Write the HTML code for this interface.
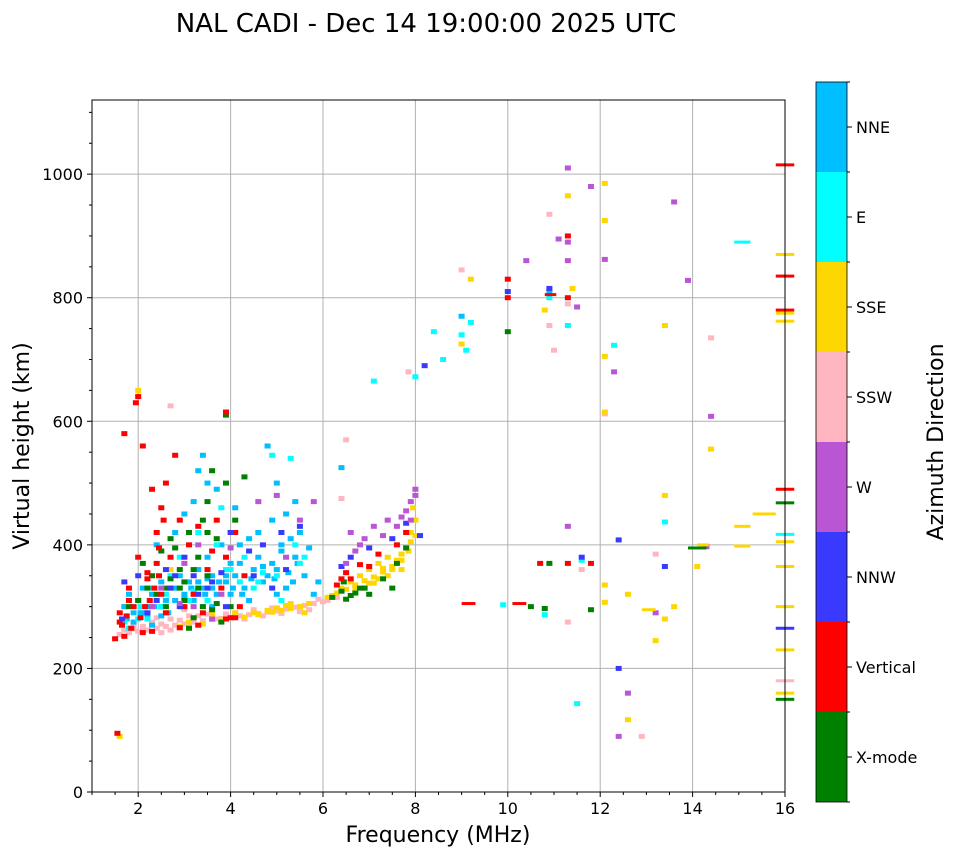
<!DOCTYPE html>
<html><head><meta charset="utf-8">
<style>
html,body{margin:0;padding:0;background:#fff;}
svg{display:block;font-family:"DejaVu Sans","Liberation Sans",sans-serif;}
</style></head>
<body>
<svg id="chart" width="958" height="857" viewBox="0 0 958 857">
  <text x="426" y="32" font-size="26" text-anchor="middle">NAL CADI - Dec 14 19:00:00 2025 UTC</text>
  <g id="grid"></g>
  <g id="marks"></g>
  <rect x="92" y="100" width="693" height="692" fill="none" stroke="#000" stroke-width="1"/>
  <g id="axes"></g>
  <text x="438" y="842" font-size="22" text-anchor="middle">Frequency (MHz)</text>
  <text transform="translate(29,446) rotate(-90)" font-size="22" text-anchor="middle">Virtual height (km)</text>
  <g id="colorbar"></g>
  <text transform="translate(943,442) rotate(-90)" font-size="22" text-anchor="middle">Azimuth Direction</text>
</svg>
<script>
const dirNames = ["X-mode","Vertical","NNW","W","SSW","SSE","E","NNE"];
const dirColors = ["#008000","#ff0000","#3a3aff","#ba55d3","#ffb6c1","#ffd700","#00ffff","#00bfff"];
const xTicks = [2,4,6,8,10,12,14,16];
const yTicks = [0,200,400,600,800,1000];

// direction 0: X-mode
const xmodeF = [6.2,6.4,6.6,6.9,7.3,3.2,2.6,1.8,2.1,2.3,2.5,2.7,2.9,3.1,3.3,3.5,3.7,3.9,4.1,4.3,3.6,2.7,3.4,3.9,2.2,3.0,3.4,3.5,6.5,6.7,7.0,7.5,7.8,4.0,10.0,10.5,10.8,10.9,11.8,3.8,2.8,2.4,2.6,3.0,3.3,3.6,3.2,3.5,2.9,3.7,6.45,6.8,7.6,2.0,3.1];
const xmodeH = [315,325,318,330,345,282,300,300,370,350,390,410,360,420,380,470,410,500,440,510,520,345,440,610,330,340,300,420,312,322,320,330,395,300,745,300,297,370,295,275,395,320,330,310,330,295,360,350,330,305,340,330,370,310,265];
// direction 1: Vertical
const vertF = [1.5,1.7,2.1,2.9,3.3,3.9,4.1,1.6,1.8,2.0,2.2,2.4,2.5,2.7,2.9,3.1,3.3,3.5,3.7,3.9,4.1,4.3,2.3,2.6,2.1,1.7,1.95,2.0,3.9,2.8,2.4,3.0,3.6,6.4,6.5,6.8,7.2,7.6,7.8,6.3,2.2,1.6,1.9,3.4,10.0,10.0,11.3,11.3,10.7,11.3,11.8,1.55,4.0,2.5,1.65,1.75,1.85,2.25,2.35,2.45,2.15,2.05,1.8,2.6,3.2,3.8,4.2,2.3,2.45,2.55,6.6,7.0];
const vertH = [248,252,258,266,270,280,282,290,330,380,345,420,460,380,440,400,430,360,440,380,420,350,490,500,560,580,630,640,615,545,370,300,390,345,355,368,385,400,420,335,355,275,300,290,830,800,900,800,370,370,370,95,282,320,270,285,265,310,330,350,300,282,310,290,320,330,300,260,395,440,345,365];
// direction 2: NNW
const nnwF = [6.6,7.0,7.5,7.8,6.4,1.7,2.0,2.4,2.8,3.2,3.6,4.0,4.4,4.7,5.1,5.5,3.0,3.8,2.6,5.2,8.2,10.0,10.9,11.6,12.4,12.4,13.4,3.5,2.9,1.65,2.2,2.7,3.3,3.9,4.5,4.9,8.1];
const nnwH = [380,395,410,435,365,340,350,310,350,350,340,420,390,400,420,430,380,355,360,360,690,810,815,380,408,200,365,330,300,280,290,330,320,300,350,330,415];
// direction 3: W
const wF = [6.5,6.7,6.9,7.1,7.4,7.7,7.9,8.0,6.8,7.3,7.6,2.5,3.3,4.0,4.6,5.0,5.8,5.5,3.0,10.4,11.1,11.3,11.3,11.3,11.5,11.8,12.1,12.3,13.6,13.9,14.4,11.3,12.4,12.6,13.2,14.3,7.8,2.9,3.6,3.8,3.2,2.3,5.2,7.9,8.0,6.6];
const wH = [370,390,410,430,440,445,470,490,400,415,430,330,400,395,470,480,470,440,370,860,895,1010,890,860,785,980,862,680,955,828,608,430,90,160,290,397,455,305,280,320,300,300,380,440,480,420];
// direction 4: SSW
const sswF = [1.6,1.8,2.0,2.2,2.4,2.6,2.8,3.0,3.2,3.4,3.6,3.8,4.0,4.2,4.4,4.6,4.8,5.0,5.2,5.4,5.6,5.8,6.0,1.9,2.3,2.7,3.1,3.5,2.5,2.2,3.0,6.5,6.4,2.7,5.2,5.9,6.2,4.5,4.9,9.0,7.85,10.9,11.0,10.9,11.3,14.4,12.1,11.6,11.3,13.2,12.9,2.1,2.9,3.7,1.7,1.9,2.1,2.3,2.5,2.7,2.9,3.1,3.3,4.3,4.7,5.1,5.5,5.7,6.1,6.3,2.4,2.6,3.3,3.9,4.1];
const sswH = [255,258,260,262,265,268,270,272,275,277,279,281,283,285,287,289,291,293,296,299,302,305,308,270,275,280,285,288,272,290,295,570,475,625,300,312,318,295,298,845,680,755,715,935,790,735,612,360,275,385,90,262,278,280,262,264,268,272,258,262,265,268,270,280,285,289,292,295,310,315,282,290,285,288,290];
// direction 5: SSE
const sseF = [3.4,3.8,4.3,4.6,4.9,5.1,5.3,5.5,6.1,6.3,6.5,6.7,6.9,7.1,7.3,7.5,7.6,7.7,7.8,7.9,8.0,8.0,7.95,6.6,6.8,7.0,7.2,7.4,2.7,3.6,5.6,2.0,4.1,5.3,6.9,7.1,7.4,7.7,7.6,7.3,9.0,9.2,10.8,11.3,11.4,12.1,12.1,12.1,12.1,13.4,13.4,14.1,12.1,12.1,12.6,12.6,13.2,13.4,13.6,14.4,1.6,2.9,3.6,4.5,4.8,5.0,5.2,5.7,6.2,6.4,6.7,7.0,7.2,7.5,7.7,7.85,7.9,2.3,3.1,1.7];
const sseH = [272,277,283,287,291,294,297,300,315,322,328,335,342,348,356,365,375,385,395,405,415,440,460,340,350,360,370,380,360,290,290,650,290,305,330,338,350,360,372,362,725,830,780,965,815,985,925,705,615,755,480,365,335,307,320,117,245,280,300,555,90,268,285,290,294,298,302,305,318,330,330,338,345,360,375,390,420,300,275,300];
// direction 6: E
const eF = [2.0,2.6,3.4,4.2,5.6,5.1,3.8,5.3,4.9,2.9,2.3,3.1,3.9,4.5,5.4,1.9,9.0,9.1,8.4,8.0,7.1,8.6,9.2,10.9,11.3,11.6,12.3,9.9,10.8,11.5,13.4,3.2,4.7,2.5,1.7,1.8,2.05,2.2,2.7,3.5,4.0,4.6,5.0,5.5,3.3,3.7,4.3];
const eH = [280,320,300,340,380,310,460,540,545,380,330,310,360,330,400,300,740,715,745,672,665,700,760,800,755,375,723,303,287,143,437,325,355,300,275,265,300,280,350,310,360,340,350,370,420,400,380];
// direction 7: NNE
const nneF = [1.7,1.9,2.0,2.1,2.3,2.5,2.6,2.8,2.9,3.0,3.1,3.2,3.3,3.4,3.5,3.6,3.7,3.8,3.9,4.0,4.1,4.3,4.5,4.6,4.7,4.8,4.9,5.0,5.1,5.2,5.3,5.4,5.5,5.6,5.7,4.2,4.4,4.6,4.9,5.0,5.2,5.4,4.8,3.7,3.5,3.3,2.8,3.0,3.2,2.4,1.8,2.2,3.6,4.0,4.4,5.8,5.9,5.0,3.4,4.1,6.4,9.0,10.9,3.0,3.5,4.2,2.7,1.75,1.9,2.05,2.2,2.35,2.5,2.65,2.8,2.95,3.15,3.3,3.45,3.6,3.75,3.9,4.05,4.25,4.45,4.7,4.95,5.25,5.45,5.35,5.1,2.1,2.3,2.5];
const nneH = [300,290,310,330,320,340,310,330,350,320,340,310,360,330,380,350,320,400,340,370,350,330,360,380,340,350,370,360,390,330,410,380,420,350,395,400,410,420,440,500,450,470,560,490,500,520,420,450,470,400,320,300,300,320,310,320,340,320,545,460,525,770,810,315,345,370,330,280,275,290,285,300,300,290,310,300,330,340,320,330,340,350,330,320,345,365,345,355,370,340,400,290,270,285];

// wide marks (span in MHz)
const wideF = [9.0,10.1,10.8,14.9,13.9,14.1,14.9,14.9,15.3,12.9,15.8,15.8,15.8,15.8,15.8,15.8,15.8,15.8,15.8,15.8,15.8,15.8,15.8,15.8,15.8,15.8,15.8];
const wideH = [305,305,805,890,395,400,430,398,450,295,1015,870,835,780,775,762,490,468,417,405,365,300,265,230,180,160,150];
const wideD = [1,1,1,6,0,5,5,5,5,5,1,5,1,1,5,5,1,0,6,5,5,5,2,5,4,5,0];
const wideSpan = [0.3,0.3,0.25,0.35,0.4,0.25,0.35,0.35,0.5,0.3,0.4,0.4,0.4,0.4,0.4,0.4,0.4,0.4,0.4,0.4,0.4,0.4,0.4,0.4,0.4,0.4,0.4];

const NS = "http://www.w3.org/2000/svg";
const X0 = 92, X1 = 785, Y0 = 792, Y1 = 100;
const fMin = 1, fMax = 16, hMin = 0, hMax = 1120;
function xScale(f){ return X0 + (f - fMin) / (fMax - fMin) * (X1 - X0); }
function yScale(h){ return Y0 - (h - hMin) / (hMax - hMin) * (Y0 - Y1); }
function mk(tag, attrs, parent){ const e = document.createElementNS(NS, tag); for (const k in attrs) e.setAttribute(k, attrs[k]); parent.appendChild(e); return e; }

const grid = document.getElementById('grid');
xTicks.forEach(t => {
  if (t < fMax) {
    const l = mk('line', {x1:xScale(t), x2:xScale(t), y1:Y1, y2:Y0, stroke:'#b0b0b0', 'stroke-width':1}, grid);
    
    
  }
});
yTicks.forEach(t => {
  if (t > 0) {
    const l = mk('line', {x1:X0, x2:X1, y1:yScale(t), y2:yScale(t), stroke:'#b0b0b0', 'stroke-width':1}, grid);
    
    
  }
});

const axes = document.getElementById('axes');
xTicks.forEach(t => {
  const x = xScale(t);
  const l = mk('line', {x1:x, x2:x, y1:Y0, y2:Y0+5, stroke:'#000'}, axes);
  
  
  const tx = mk('text', {x:x, y:Y0+22, 'font-size':16, 'text-anchor':'middle'}, axes);
  tx.textContent = t;
  
  
});
yTicks.forEach(t => {
  const y = yScale(t);
  const l = mk('line', {x1:X0-5, x2:X0, y1:y, y2:y, stroke:'#000'}, axes);
  
  
  const tx = mk('text', {x:X0-9, y:y+6, 'font-size':16, 'text-anchor':'end'}, axes);
  tx.textContent = t;
  
  
});
for (let h = 50; h < hMax; h += 50) {
  if (h % 200 === 0) continue;
  const l = mk('line', {x1:X0-3, x2:X0, y1:yScale(h), y2:yScale(h), stroke:'#000'}, axes);
  
  
}
for (let f = 1; f <= 16; f += 0.5) {
  if (f % 2 === 0) continue;
  const l = mk('line', {x1:xScale(f), x2:xScale(f), y1:Y0, y2:Y0+3, stroke:'#000'}, axes);
  
  
}

const marks = document.getElementById('marks');
const MH = 5, DEF_SPAN = 0.13;
function drawSeries(fs, hs, d){
  for (let i = 0; i < fs.length; i++) {
    const x = xScale(fs[i] - DEF_SPAN/2), w = xScale(fs[i] + DEF_SPAN/2) - x;
    const r = mk('rect', {x:x, y:yScale(hs[i]) - MH/2, width:w, height:MH, fill:dirColors[d]}, marks);
    
    
  }
}
drawSeries(sswF, sswH, 4);
drawSeries(sseF, sseH, 5);
drawSeries(nneF, nneH, 7);
drawSeries(eF, eH, 6);
drawSeries(xmodeF, xmodeH, 0);
drawSeries(vertF, vertH, 1);
drawSeries(nnwF, nnwH, 2);
drawSeries(wF, wH, 3);
for (let i = 0; i < wideF.length; i++) {
  const x = xScale(wideF[i]), w = xScale(wideF[i] + wideSpan[i]) - x;
  const r = mk('rect', {x:x, y:yScale(wideH[i]) - 1.5, width:w, height:3, fill:dirColors[wideD[i]]}, marks);
  
  
}

const cb = document.getElementById('colorbar');
const CBX = 816, CBW = 31, CBTOP = 82, CBBOT = 802;
const segH = (CBBOT - CBTOP) / dirNames.length;
dirNames.forEach((n, i) => {
  const y = CBBOT - (i + 1) * segH;
  const r = mk('rect', {x:CBX, y:y, width:CBW, height:segH, fill:dirColors[i]}, cb);
  
  
  const l = mk('line', {x1:CBX+CBW, x2:CBX+CBW+5, y1:y+segH/2, y2:y+segH/2, stroke:'#000'}, cb);
  
  
  const t = mk('text', {x:CBX+CBW+9, y:y+segH/2+6, 'font-size':16}, cb);
  t.textContent = n;
  
  
});
for (let i = 0; i <= dirNames.length; i++) {
  const y = CBTOP + i * segH;
  const l = mk('line', {x1:CBX+CBW, x2:CBX+CBW+3, y1:y, y2:y, stroke:'#000'}, cb);
  
  
}
const fr = mk('rect', {x:CBX, y:CBTOP, width:CBW, height:CBBOT-CBTOP, fill:'none', stroke:'#000', 'stroke-width':0.8}, cb);


</script>
</body></html>
